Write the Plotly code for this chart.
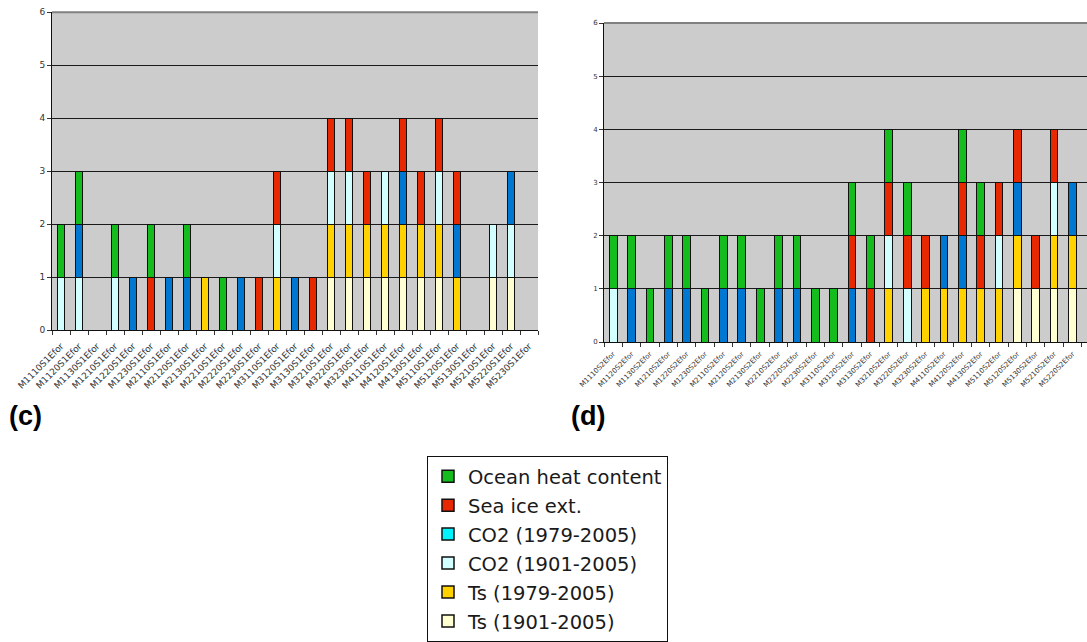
import plotly.graph_objects as go

# ---------------- data ----------------
runs_c = ["M1110S1Efor", "M1120S1Efor", "M1130S1Efor", "M1210S1Efor", "M1220S1Efor", "M1230S1Efor",
          "M2110S1Efor", "M2120S1Efor", "M2130S1Efor", "M2210S1Efor", "M2220S1Efor", "M2230S1Efor",
          "M3110S1Efor", "M3120S1Efor", "M3130S1Efor", "M3210S1Efor", "M3220S1Efor", "M3230S1Efor",
          "M4110S1Efor", "M4120S1Efor", "M4130S1Efor", "M5110S1Efor", "M5120S1Efor", "M5130S1Efor",
          "M5210S1Efor", "M5220S1Efor", "M5230S1Efor"]
runs_d = [r.replace("S1Efor", "S2Efor") for r in runs_c]

series_names = ["Ts (1901-2005)", "Ts (1979-2005)", "CO2 (1901-2005)", "CO2 (1979-2005)",
                "Sea ice ext.", "Ocean heat content"]

# panel (c)
c_ts01 = [0,0,0,0,0,0, 0,0,0,0,0,0, 0,0,0,1,1,1, 1,1,1,1,0,0, 1,1,0]
c_ts79 = [0,0,0,0,0,0, 0,0,1,0,0,0, 1,0,0,1,1,1, 1,1,1,1,1,0, 0,0,0]
c_co01 = [1,1,0,1,0,0, 0,0,0,0,0,0, 1,0,0,1,1,0, 1,0,0,1,0,0, 1,1,0]
c_co79 = [0,1,0,0,1,0, 1,1,0,0,1,0, 0,1,0,0,0,0, 0,1,0,0,1,0, 0,1,0]
c_ice  = [0,0,0,0,0,1, 0,0,0,0,0,1, 1,0,1,1,1,1, 0,1,1,1,1,0, 0,0,0]
c_ohc  = [1,1,0,1,0,1, 0,1,0,1,0,0, 0,0,0,0,0,0, 0,0,0,0,0,0, 0,0,0]

# panel (d)
d_ts01 = [0,0,0,0,0,0, 0,0,0,0,0,0, 0,0,0,0,0,0, 0,0,0,0,1,1, 1,1,0]
d_ts79 = [0,0,0,0,0,0, 0,0,0,0,0,0, 0,0,0,1,0,1, 1,1,1,1,1,0, 1,1,0]
d_co01 = [1,0,0,0,0,0, 0,0,0,0,0,0, 0,0,0,1,1,0, 0,0,0,1,0,0, 1,0,0]
d_co79 = [0,1,0,1,1,0, 1,1,0,1,1,0, 0,1,0,0,0,0, 1,1,0,0,1,0, 0,1,0]
d_ice  = [0,0,0,0,0,0, 0,0,0,0,0,0, 0,1,1,1,1,1, 0,1,1,1,1,1, 1,0,0]
d_ohc  = [1,1,1,1,1,1, 1,1,1,1,1,1, 1,1,1,1,1,0, 0,1,1,0,0,0, 0,0,0]

bar_colors = ["#ffffd2", "#ffd200", "#d2ffff", "#0078d2", "#e82800", "#14bc1e"]
legend_order = ["Ocean heat content", "Sea ice ext.", "CO2 (1979-2005)", "CO2 (1901-2005)",
                "Ts (1979-2005)", "Ts (1901-2005)"]
legend_colors = ["#14bc1e", "#e82800", "#00f4ff", "#d2ffff", "#ffd200", "#ffffd2"]

# ---------------- figure ----------------
W, H = 1087, 642
fig = go.Figure()

def nz(vals):
    return [v if v else None for v in vals]

panels = [
    ("x", "y", runs_c, [c_ts01, c_ts79, c_co01, c_co79, c_ice, c_ohc]),
    ("x2", "y2", runs_d, [d_ts01, d_ts79, d_co01, d_co79, d_ice, d_ohc]),
]
for xa, ya, cats, data in panels:
    for name, col, vals in zip(series_names, bar_colors, data):
        fig.add_trace(go.Bar(
            x=cats, y=nz(vals), name=name, xaxis=xa, yaxis=ya,
            marker=dict(color=col, line=dict(color="#111111", width=1)),
            width=0.42, showlegend=False, hoverinfo="x+y+name",
        ))

for name, col in zip(legend_order, legend_colors):
    fig.add_trace(go.Bar(
        x=[runs_c[0]], y=[None], name=name, xaxis="x", yaxis="y",
        legendgroup=name, showlegend=True,
        marker=dict(color=col, line=dict(color="#111111", width=1.5)),
    ))

tick_font_c = dict(family="DejaVu Sans", size=9, color="#333333")
tick_font_d = dict(family="DejaVu Sans", size=7, color="#333333")

common_x = dict(type="category", tickangle=-45, ticks="outside", tickson="boundaries",
                ticklen=4, tickcolor="#333333", showline=True, linecolor="#111111",
                linewidth=1, showgrid=False, zeroline=False, automargin=False, fixedrange=True)
common_y = dict(range=[0, 6], dtick=1, tick0=0, ticks="outside", ticklen=4, tickcolor="#333333",
                showline=True, linecolor="#111111", linewidth=1, showgrid=True,
                gridcolor="#1a1a1a", gridwidth=1, zeroline=False, automargin=False, fixedrange=True)

cw = (1072.3 - 613.0) / 25.0
right_range = (W - 604.0) / cw - 0.5

fig.update_layout(
    width=W, height=H, autosize=False,
    margin=dict(l=0, r=0, t=0, b=0),
    paper_bgcolor="white", plot_bgcolor="#cccccc",
    barmode="stack",
    font=dict(family="DejaVu Sans", color="#222222"),
    xaxis=dict(domain=[52 / W, 538 / W], anchor="y", categoryorder="array",
               categoryarray=runs_c, range=[-0.5, len(runs_c) - 0.5], tickfont=tick_font_c,
               ticklabelstandoff=6, **common_x),
    yaxis=dict(domain=[1 - 330.3 / H, 1 - 12.3 / H], anchor="x", tickfont=tick_font_c, **common_y),
    xaxis2=dict(domain=[604 / W, 1.0], anchor="y2", categoryorder="array",
                categoryarray=runs_d, range=[-0.5, right_range], tickfont=tick_font_d,
                ticklabelstandoff=4, **common_x),
    yaxis2=dict(domain=[1 - 342 / H, 1 - 23 / H], anchor="x2", tickfont=tick_font_d, **common_y),
    legend=dict(x=427 / W, y=1 - 456 / H, xanchor="left", yanchor="top",
                bgcolor="white", bordercolor="#111111", borderwidth=1,
                font=dict(family="DejaVu Sans", size=19.5, color="#1a1a1a"),
                traceorder="grouped", tracegroupgap=0.6),
    shapes=[
        dict(type="line", xref="x domain", yref="y domain", x0=0, x1=1, y0=1, y1=1,
             line=dict(color="#808080", width=2)),
        dict(type="line", xref="x2 domain", yref="y2 domain", x0=0, x1=1, y0=1, y1=1,
             line=dict(color="#808080", width=2)),
    ],
    annotations=[
        dict(text="<b>(c)</b>", xref="paper", yref="paper", x=7 / W, y=1 - 416 / H,
             xanchor="left", yanchor="middle", showarrow=False,
             font=dict(family="Liberation Sans", size=27, color="black")),
        dict(text="<b>(d)</b>", xref="paper", yref="paper", x=569 / W, y=1 - 416 / H,
             xanchor="left", yanchor="middle", showarrow=False,
             font=dict(family="Liberation Sans", size=27, color="black")),
    ],
)

fig.write_html("out.html")
